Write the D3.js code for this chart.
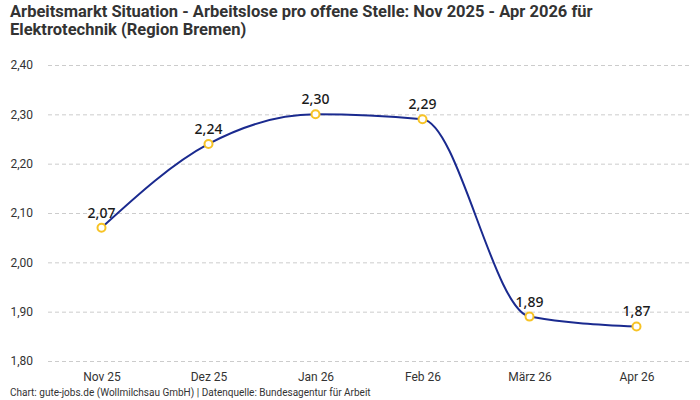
<!DOCTYPE html>
<html>
<head>
<meta charset="utf-8">
<script src="https://cdn.jsdelivr.net/npm/d3@7"></script>
<style>
  body { margin: 0; background: #fff; }
  .title { font-family: "Roboto", sans-serif; font-weight: bold; font-size: 16.5px; fill: #333; }
  .axis text { font-family: "Roboto", sans-serif; font-size: 12px; fill: #333; }
  .footer { font-family: "Roboto", sans-serif; font-size: 10px; fill: #333; }
  .valueLabel { font-family: "Noto Sans", sans-serif; font-size: 14px; font-weight: 500; fill: #1a1a1a; }
</style>
</head>
<body>
<script>
var months = ["Nov 25", "Dez 25", "Jan 26", "Feb 26", "März 26", "Apr 26"];
var values = [2.07, 2.24, 2.30, 2.29, 1.89, 1.87];
var yTicks = [1.80, 1.90, 2.00, 2.10, 2.20, 2.30, 2.40];
var titleLines = [
    "Arbeitsmarkt Situation - Arbeitslose pro offene Stelle: Nov 2025 - Apr 2026 für",
    "Elektrotechnik (Region Bremen)"
];

var width = 700, height = 400;
var margin = { top: 65, right: 10, bottom: 39, left: 48 };

var svg = d3.select("body").append("svg")
    .attr("width", width)
    .attr("height", height);

//Title, one text per line
titleLines.forEach(function (t, i) {
    svg.append("text")
        .attr("class", "title")
        .attr("x", 10)
        .attr("y", 17 + i * 18)
        .text(t);
});

var x = d3.scalePoint()
    .domain(months)
    .range([margin.left, width - margin.right])
    .padding(0.5);

var y = d3.scaleLinear()
    .domain([1.80, 2.40])
    .range([height - margin.bottom, margin.top]);

var fmt = function (v) { return d3.format(".2f")(v).replace(".", ","); };

//Grid + y labels
var yAxis = svg.append("g")
    .attr("class", "axis")
    .attr("transform", "translate(" + margin.left + ",0)")
    .call(d3.axisLeft(y)
        .tickValues(yTicks)
        .tickFormat(fmt)
        .tickSize(-(width - margin.left - margin.right))
        .tickPadding(15));
yAxis.select(".domain").remove();
yAxis.selectAll("line")
    .attr("stroke", "#ccc")
    .attr("stroke-dasharray", "4,3");

//X labels
var xAxis = svg.append("g")
    .attr("class", "axis")
    .attr("transform", "translate(0," + (height - margin.bottom) + ")")
    .call(d3.axisBottom(x).tickSize(0).tickPadding(11));
xAxis.select(".domain").remove();

//Line
var data = months.map(function (m, i) { return { m: m, v: values[i] }; });

svg.append("path")
    .datum(data)
    .attr("fill", "none")
    .attr("stroke", "#1a2a8f")
    .attr("stroke-width", 2)
    .attr("d", d3.line()
        .x(function (d) { return x(d.m); })
        .y(function (d) { return y(d.v); })
        .curve(d3.curveMonotoneX));

//Points
svg.selectAll(".pt")
    .data(data)
    .enter().append("circle")
    .attr("class", "pt")
    .attr("cx", function (d) { return x(d.m); })
    .attr("cy", function (d) { return y(d.v); })
    .attr("r", 4)
    .attr("fill", "#fff")
    .attr("stroke", "#f7c325")
    .attr("stroke-width", 2);

//Value labels
svg.selectAll(".valueLabel")
    .data(data)
    .enter().append("text")
    .attr("class", "valueLabel")
    .attr("x", function (d) { return x(d.m); })
    .attr("y", function (d) { return y(d.v) - 10; })
    .attr("text-anchor", "middle")
    .text(function (d) { return fmt(d.v); });

//Footer
svg.append("text")
    .attr("class", "footer")
    .attr("x", 10)
    .attr("y", 396)
    .text("Chart: gute-jobs.de (Wollmilchsau GmbH) | Datenquelle: Bundesagentur für Arbeit");
</script>
</body>
</html>
